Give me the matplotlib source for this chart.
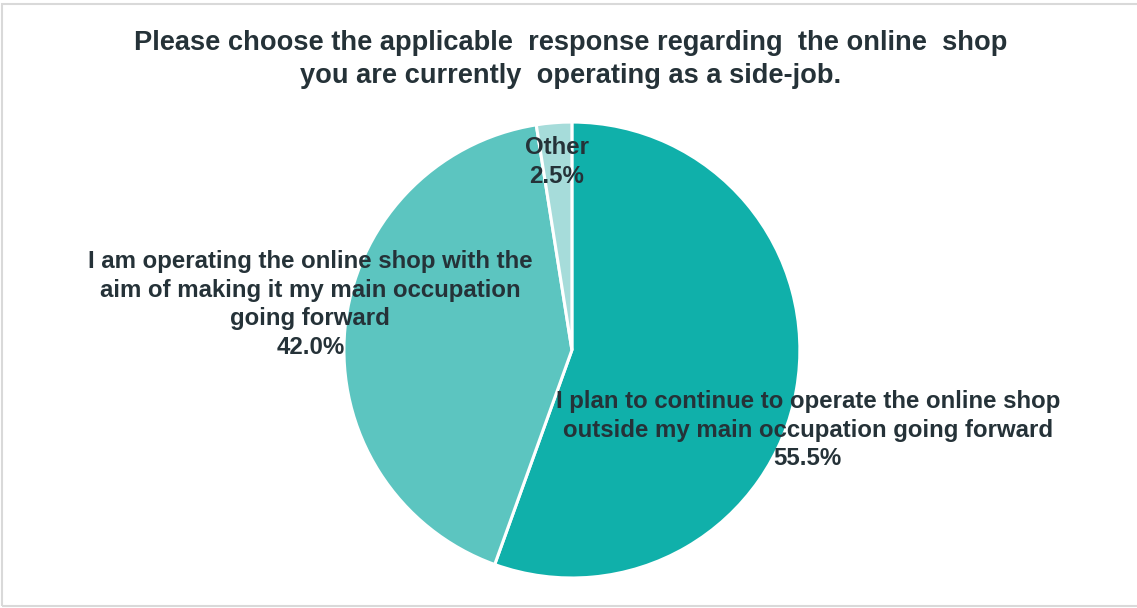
import matplotlib.pyplot as plt
from matplotlib.patches import Rectangle

plt.rcParams['font.family'] = ['Liberation Sans', 'DejaVu Sans']

labels = ['I plan to continue to operate the online shop\noutside my main occupation going forward',
          'I am operating the online shop with the\naim of making it my main occupation\ngoing forward',
          'Other']
shares = [55.5, 42.0, 2.5]
colors = ['#10b0aa', '#5cc5c0', '#a6dcda']
# label centres, in units of the pie radius
label_pos = [(1.035, -0.352), (-1.147, 0.20), (-0.066, 0.825)]

fig = plt.figure(figsize=(11.37, 6.08), dpi=100)
# chart frame, open on the right
fig.patches.append(Rectangle((0.002, 0.004), 1.05, 0.99, transform=fig.transFigure,
                             fill=False, edgecolor='#d9d9d9', linewidth=1.5))

ax = fig.add_axes([0.3025, 0.0493, 0.401, 0.75])
ax.pie(shares, colors=colors, startangle=90, counterclock=False,
       wedgeprops=dict(edgecolor='white', linewidth=2.2))
ax.set_xlim(-1, 1)
ax.set_ylim(-1, 1)
ax.set_aspect('equal')

for lab, val, (x, y) in zip(labels, shares, label_pos):
    ax.text(x, y, '%s\n%.1f%%' % (lab, val), ha='center', va='center',
            fontsize=17.3, fontweight='bold', color='#253238', linespacing=1.31,
            clip_on=False)

fig.text(0.502, 0.902, 'Please choose the applicable  response regarding  the online  shop\n'
         'you are currently  operating as a side-job.',
         ha='center', va='center', fontsize=19.6, fontweight='bold', color='#253238',
         linespacing=1.32)

fig.savefig('out.png', dpi=100)
